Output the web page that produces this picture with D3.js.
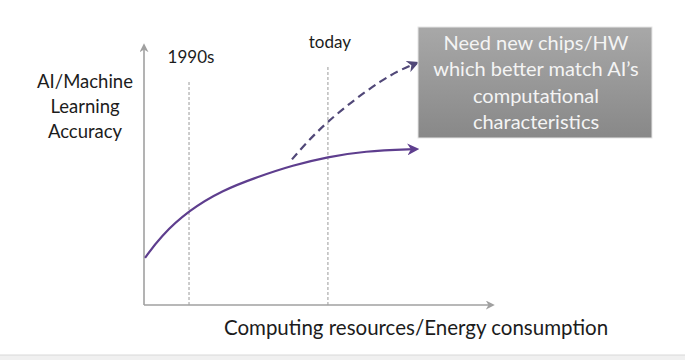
<!DOCTYPE html>
<html>
<head>
<meta charset="utf-8">
<script src="https://cdn.jsdelivr.net/npm/d3@7"></script>
<style>
  body { margin: 0; background: #fff; }
  text { font-family: Lato, "Open Sans", sans-serif; }
</style>
</head>
<body>
<div id="chart"></div>
<script>
// values (arbitrary units, x 0..10, y 0..10)
const currentTrend = [
  [0.03, 1.81], [0.46, 2.62], [1.29, 3.65], [2.26, 4.42], [3.24, 4.92],
  [4.27, 5.38], [5.27, 5.69], [6.28, 5.92], [7.82, 6.0]
];
const neededTrend = [
  [4.24, 5.6], [5.27, 7.04], [6.76, 8.58], [7.82, 9.31]
];
const eras = ['1990s', 'today'];
const eraX = [1.29, 5.27];
const eraTop = [8.65, 9.23];
const yLabelLines = ['AI/Machine', 'Learning', 'Accuracy'];
const xLabel = 'Computing resources/Energy consumption';
const noteLines = ['Need new chips/HW', 'which better match AI\u2019s', 'computational', 'characteristics'];

const W = 685, H = 360;
const svg = d3.select('#chart').append('svg')
    .attr('width', W)
    .attr('height', H);

const x = d3.scaleLinear().domain([0, 10]).range([144, 493]);
const y = d3.scaleLinear().domain([0, 10]).range([305, 45]);

const defs = svg.append('defs');
const grad = defs.append('linearGradient')
    .attr('id', 'boxGrad')
    .attr('x1', 0).attr('y1', 0).attr('x2', 0).attr('y2', 1);
grad.append('stop').attr('offset', '0%').attr('stop-color', '#a8a8a8');
grad.append('stop').attr('offset', '100%').attr('stop-color', '#888888');

function marker(id, color, size) {
    defs.append('marker')
        .attr('id', id)
        .attr('viewBox', '0 0 10 10')
        .attr('refX', 8).attr('refY', 5)
        .attr('markerUnits', 'userSpaceOnUse')
        .attr('markerWidth', size).attr('markerHeight', size)
        .attr('orient', 'auto')
        .append('path')
        .attr('d', 'M0,0 L10,5 L0,10 L3,5 Z')
        .attr('fill', color);
}
marker('axisArrow', '#a0a0a0', 9);
marker('solidArrow', '#5e3e8e', 12);
marker('dashArrow', '#514878', 12);

// bottom strip
svg.append('rect')
    .attr('x', 0).attr('y', 355).attr('width', W).attr('height', 5)
    .attr('fill', '#f0f0f0');
svg.append('line')
    .attr('x1', 0).attr('x2', W).attr('y1', 355).attr('y2', 355)
    .attr('stroke', '#d8d8d8');

// era guide lines
eras.forEach((label, i) => {
    svg.append('line')
        .attr('x1', x(eraX[i])).attr('x2', x(eraX[i]))
        .attr('y1', y(0)).attr('y2', y(eraTop[i]))
        .attr('stroke', '#9a9a9a')
        .attr('stroke-width', 1)
        .attr('stroke-dasharray', '3,2');
    svg.append('text')
        .attr('x', x(eraX[i]) + 2)
        .attr('y', y(eraTop[i]) - 17)
        .attr('text-anchor', 'middle')
        .style('font-size', '17px')
        .attr('fill', '#1c1c1c')
        .text(label);
});

// axes
svg.append('line')
    .attr('x1', x(0)).attr('y1', y(0)).attr('x2', x(0)).attr('y2', y(10))
    .attr('stroke', '#a0a0a0').attr('stroke-width', 1.6)
    .attr('marker-end', 'url(#axisArrow)');
svg.append('line')
    .attr('x1', x(0)).attr('y1', y(0)).attr('x2', x(10)).attr('y2', y(0))
    .attr('stroke', '#a0a0a0').attr('stroke-width', 1.6)
    .attr('marker-end', 'url(#axisArrow)');

const smooth = d3.line()
    .x(d => x(d[0]))
    .y(d => y(d[1]))
    .curve(d3.curveBasis);

const natural = d3.line()
    .x(d => x(d[0]))
    .y(d => y(d[1]))
    .curve(d3.curveNatural);

svg.append('path')
    .datum(neededTrend)
    .attr('d', natural)
    .attr('fill', 'none')
    .attr('stroke', '#514878')
    .attr('stroke-width', 2.2)
    .attr('stroke-dasharray', '8,5')
    .attr('marker-end', 'url(#dashArrow)');

svg.append('path')
    .datum(currentTrend)
    .attr('d', smooth)
    .attr('fill', 'none')
    .attr('stroke', '#5e3e8e')
    .attr('stroke-width', 2.2)
    .attr('marker-end', 'url(#solidArrow)');

// y label
svg.append('text')
    .attr('x', 84).attr('y', 88)
    .attr('text-anchor', 'middle')
    .style('font-size', '18.5px')
    .attr('fill', '#1c1c1c')
    .selectAll('tspan')
    .data(yLabelLines)
    .enter()
    .append('tspan')
    .attr('x', 85)
    .attr('dy', (d, i) => i === 0 ? 0 : 25)
    .text(d => d);

// x label
svg.append('text')
    .attr('x', 416).attr('y', 335)
    .attr('text-anchor', 'middle')
    .style('font-size', '20.5px')
    .attr('fill', '#1c1c1c')
    .text(xLabel);

// note box
svg.append('rect')
    .attr('x', 418).attr('y', 27)
    .attr('width', 234).attr('height', 111)
    .attr('fill', 'url(#boxGrad)')
    .attr('stroke', '#e6e6e6')
    .attr('stroke-width', 1);

svg.append('text')
    .attr('x', 536).attr('y', 50)
    .attr('text-anchor', 'middle')
    .style('font-size', '20px')
    .attr('fill', '#f4f4f4')
    .selectAll('tspan')
    .data(noteLines)
    .enter()
    .append('tspan')
    .attr('x', 536)
    .attr('dy', (d, i) => i === 0 ? 0 : 26.3)
    .text(d => d);
</script>
</body>
</html>
